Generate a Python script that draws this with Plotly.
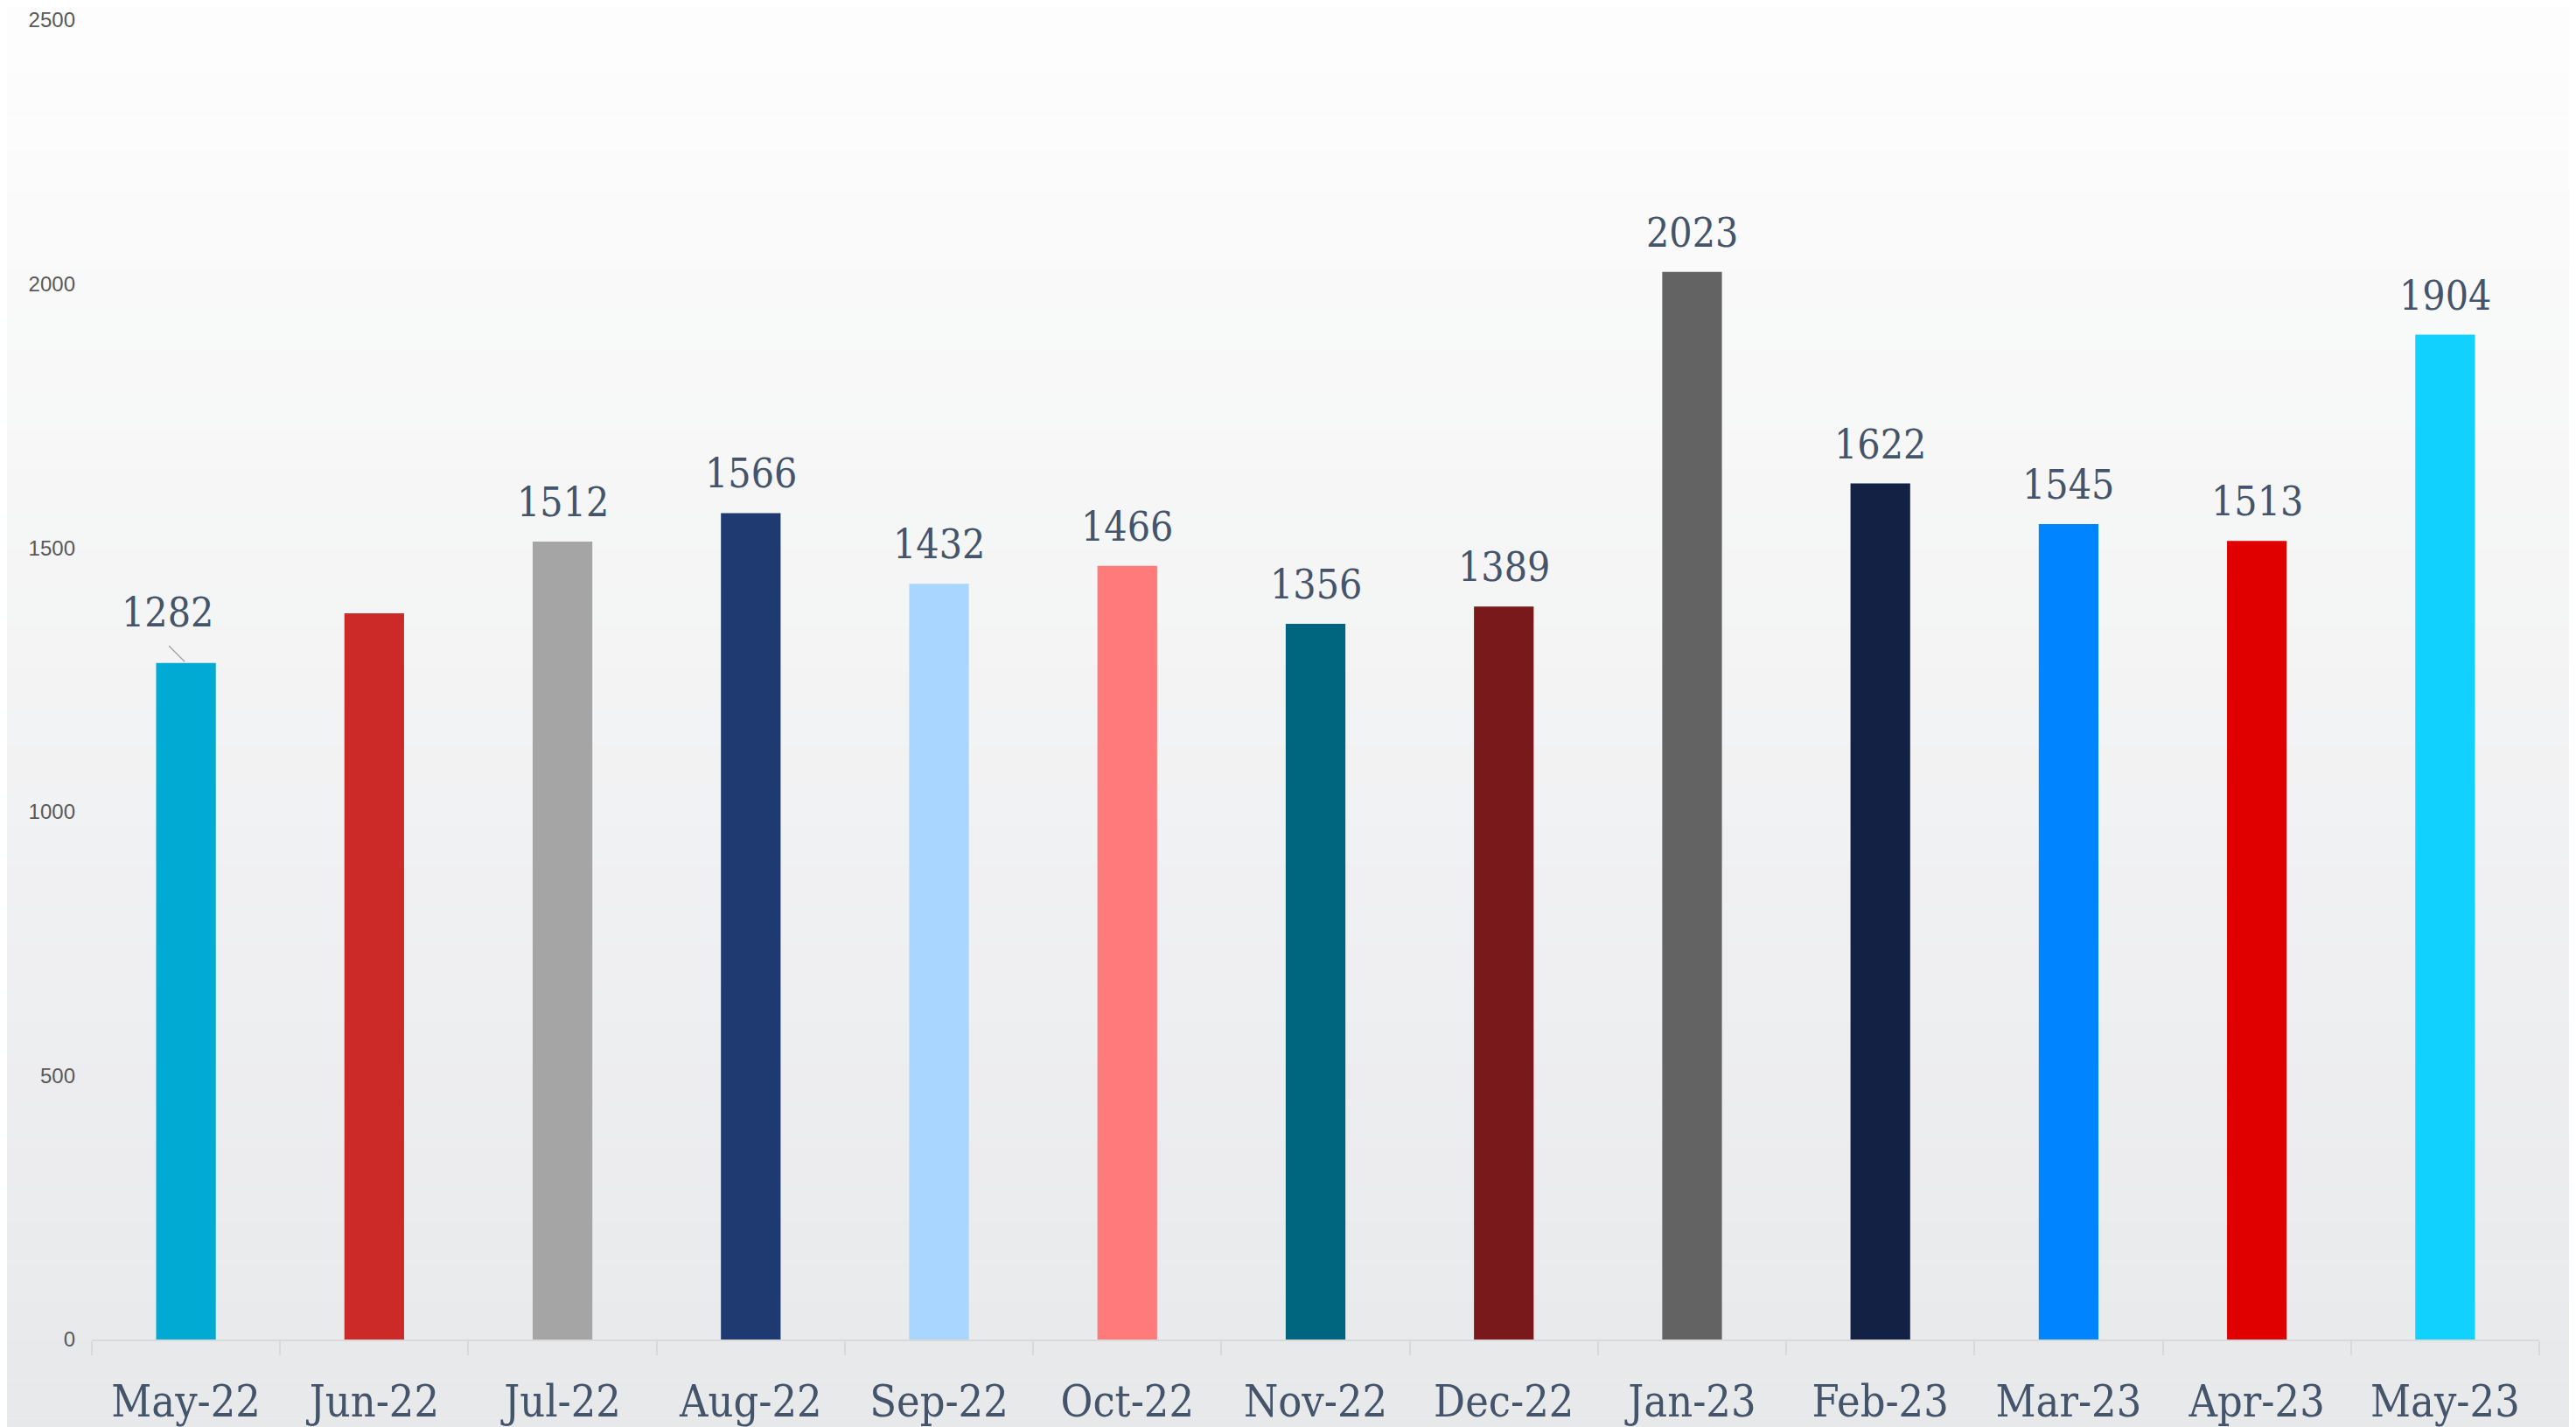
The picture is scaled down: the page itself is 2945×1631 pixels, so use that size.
import plotly.graph_objects as go

months = ["May-22", "Jun-22", "Jul-22", "Aug-22", "Sep-22", "Oct-22", "Nov-22",
          "Dec-22", "Jan-23", "Feb-23", "Mar-23", "Apr-23", "May-23"]
values = [1282, 1376, 1512, 1566, 1432, 1466, 1356, 1389, 2023, 1622, 1545, 1513, 1904]
show_label = [True, False, True, True, True, True, True, True, True, True, True, True, True]
colors = ["#00AAD2", "#CC2929", "#A5A5A5", "#1F3A70", "#A9D6FF", "#FF7B7B", "#00667F",
          "#7A191C", "#636363", "#132244", "#0084FF", "#E10000", "#11D1FF"]
y_ticks = [0, 500, 1000, 1500, 2000, 2500]

LABEL_FONT = "DejaVu Serif Condensed, DejaVu Serif, serif"
LABEL_COLOR = "#44546A"

fig = go.Figure()
fig.add_trace(go.Bar(
    x=months, y=values, marker=dict(color=colors, line=dict(width=0)),
    hoverinfo="x+y", showlegend=False,
))

# data labels
for i, (m, v) in enumerate(zip(months, values)):
    if not show_label[i]:
        continue
    if i == 0:
        # label moved off the bar, with a leader line
        fig.add_annotation(x=m, y=v, text="", showarrow=True, arrowhead=0,
                           arrowwidth=1.5, arrowcolor="#A6A6A6", ax=-21, ay=-21,
                           standoff=2)
        fig.add_annotation(x=m, y=v, text=str(v), showarrow=False, yanchor="middle",
                           xshift=-21, yshift=58,
                           font=dict(family=LABEL_FONT, size=46, color=LABEL_COLOR))
    else:
        fig.add_annotation(x=m, y=v, text=str(v), showarrow=False, yanchor="bottom",
                           yshift=16,
                           font=dict(family=LABEL_FONT, size=46, color=LABEL_COLOR))

# soft vertical background gradient (decoration)
n_bands = 40
top = (254, 254, 254)
bot = (230, 231, 233)
for k in range(n_bands):
    t = k / (n_bands - 1)
    c = tuple(round(top[j] + (bot[j] - top[j]) * t) for j in range(3))
    fig.add_shape(type="rect", xref="paper", yref="paper",
                  x0=-0.2, x1=1.2, y0=1.05 - (k + 1) * 1.2 / n_bands,
                  y1=1.05 - k * 1.2 / n_bands,
                  fillcolor="rgb(%d,%d,%d)" % c, line=dict(width=0), layer="below")

fig.update_layout(
    width=2945, height=1631,
    margin=dict(l=97, r=50, t=15, b=108),
    paper_bgcolor="#F4F4F4", plot_bgcolor="rgba(0,0,0,0)",
    bargap=0.683,
    xaxis=dict(
        automargin=False,
        showline=True, linecolor="#D9D9D9", linewidth=2,
        ticks="outside", tickson="boundaries", ticklen=16, tickcolor="#D9D9D9", tickwidth=2,
        tickfont=dict(family=LABEL_FONT, size=50, color=LABEL_COLOR),
        ticklabelstandoff=26, showgrid=False, zeroline=False,
    ),
    yaxis=dict(
        automargin=False,
        range=[0, 2500], tickvals=y_ticks, showgrid=False, zeroline=False,
        showline=False, ticks="", ticklabelstandoff=18,
        tickfont=dict(family="Liberation Sans, Arial, sans-serif", size=24, color="#595959"),
    ),
)

fig.write_html("out.html")
